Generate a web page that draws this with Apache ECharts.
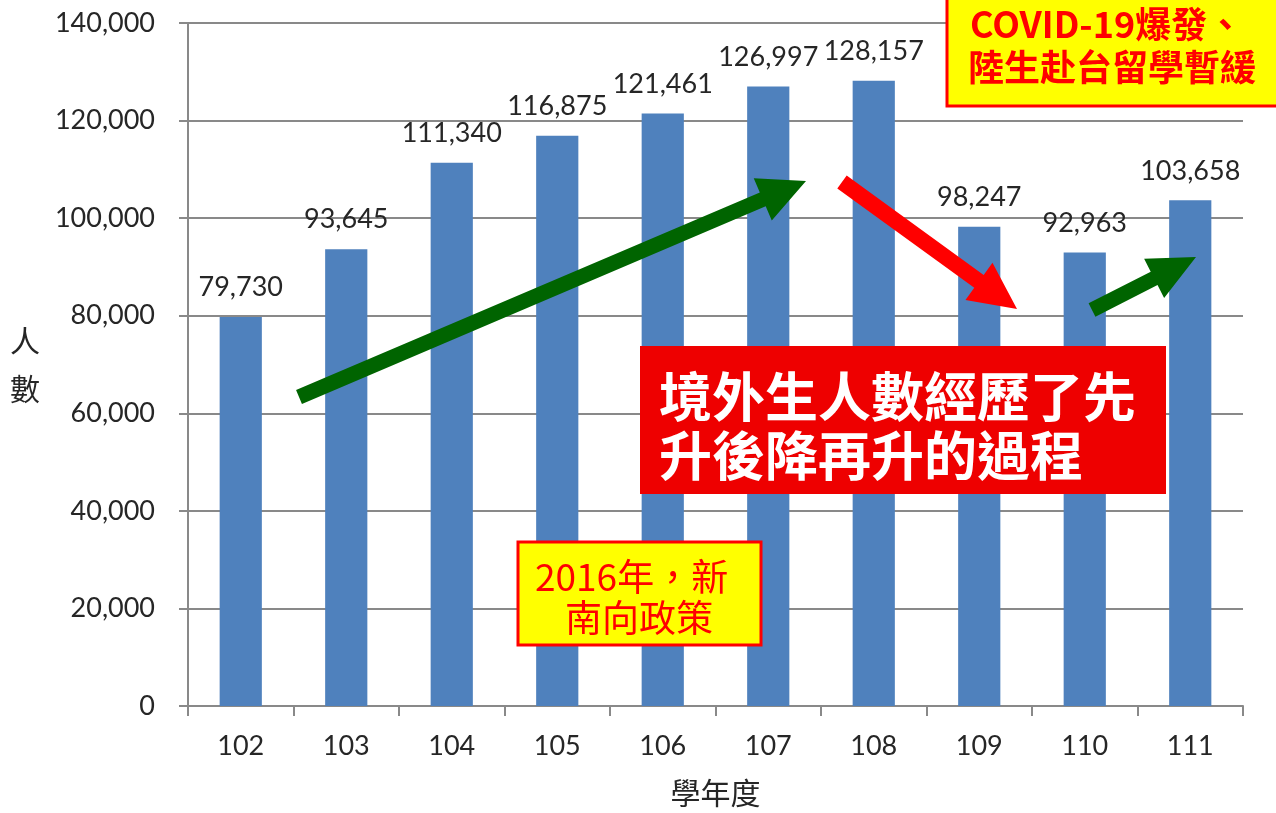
<!DOCTYPE html>
<html>
<head>
<meta charset="utf-8">
<title>境外生人數</title>
<script src="https://cdn.jsdelivr.net/npm/echarts@6/dist/echarts.min.js"></script>
<style>
  html, body { margin: 0; padding: 0; background: #fff; }
  #chart { width: 1276px; height: 813px; }
</style>
</head>
<body>
<div id="chart"></div>
<script>
// 學年度與人數
var years = ['102', '103', '104', '105', '106', '107', '108', '109', '110', '111'];
var students = [79730, 93645, 111340, 116875, 121461, 126997, 128157, 98247, 92963, 103658];
var yTicks = [0, 20000, 40000, 60000, 80000, 100000, 120000, 140000];

var myChart = echarts.init(document.getElementById('chart'));

var FONT = 'Lato, "Noto Sans CJK TC", sans-serif';
var CJK = '"Noto Sans CJK TC", sans-serif';
var GRAY = '#898989';

function fmt(v) {
    return String(v).replace(/\B(?=(\d{3})+(?!\d))/g, ',');
}

// 箭頭多邊形: tail, tip, 箭身寬, 箭頭長, 箭頭半寬
function arrow(t, h, sw, hl, hw, color) {
    var dx = h[0] - t[0], dy = h[1] - t[1];
    var len = Math.sqrt(dx * dx + dy * dy);
    var ux = dx / len, uy = dy / len;
    var nx = -uy, ny = ux;
    var b = [h[0] - ux * hl, h[1] - uy * hl];
    var pts = [
        [t[0] + nx * sw / 2, t[1] + ny * sw / 2],
        [b[0] + nx * sw / 2, b[1] + ny * sw / 2],
        [b[0] + nx * hw, b[1] + ny * hw],
        h,
        [b[0] - nx * hw, b[1] - ny * hw],
        [b[0] - nx * sw / 2, b[1] - ny * sw / 2],
        [t[0] - nx * sw / 2, t[1] - ny * sw / 2]
    ];
    return { type: 'polygon', z: 100, shape: { points: pts }, style: { fill: color } };
}

function box(x, y, w, h, fill, stroke) {
    return {
        type: 'rect', z: 100,
        shape: { x: x, y: y, width: w, height: h },
        style: { fill: fill, stroke: stroke, lineWidth: stroke ? 3 : 0 }
    };
}

function txt(x, y, s, size, color, weight) {
    return {
        type: 'text', z: 101, x: x, y: y,
        style: {
            text: s, fill: color, font: (weight || 'normal') + ' ' + size + 'px ' + CJK,
            textAlign: 'left', textVerticalAlign: 'middle'
        }
    };
}

var option = {
    backgroundColor: '#fff',
    animation: false,
    grid: { left: 188, right: 33, top: 23, bottom: 104, containLabel: false },
    xAxis: {
        type: 'category',
        data: years,
        name: '學年度',
        nameLocation: 'middle',
        nameGap: 72,
        nameTextStyle: { fontSize: 30, color: '#262626', fontFamily: CJK },
        axisLine: { lineStyle: { color: GRAY, width: 2 } },
        axisTick: { show: true, length: 10, lineStyle: { color: GRAY, width: 2 } },
        axisLabel: { fontSize: 27, color: '#262626', fontFamily: FONT, margin: 27 }
    },
    yAxis: {
        type: 'value',
        min: 0,
        max: yTicks[yTicks.length - 1],
        interval: yTicks[1] - yTicks[0],
        name: '人\n數',
        nameLocation: 'middle',
        nameRotate: 0,
        nameGap: 148,
        nameTextStyle: { fontSize: 30, color: '#262626', fontFamily: CJK, lineHeight: 48 },
        axisLine: { show: true, lineStyle: { color: GRAY, width: 2 } },
        axisTick: { show: true, length: 9, lineStyle: { color: GRAY, width: 2 } },
        splitLine: { lineStyle: { color: GRAY, width: 2 } },
        axisLabel: { fontSize: 27, color: '#262626', fontFamily: FONT, margin: 33, formatter: fmt }
    },
    series: [{
        type: 'bar',
        data: students,
        barWidth: '40%',
        itemStyle: { color: '#4F81BD' },
        label: {
            show: true,
            position: 'top',
            distance: 16,
            fontSize: 27,
            color: '#262626',
            fontFamily: FONT,
            formatter: function (p) { return fmt(p.value); }
        }
    }],
    graphic: [
        arrow([299, 397], [806, 181], 15, 47, 23, '#006400'),
        arrow([842, 182], [1017, 309], 16, 47, 23, '#FF0000'),
        arrow([1092, 310], [1196, 257], 15, 47, 22, '#006400'),

        box(947, -5, 340, 111, '#FFFF00', '#FF0000'),
        txt(970, 24, 'COVID-19爆發、', 36, '#FF0000', 'bold'),
        txt(968, 67, '陸生赴台留學暫緩', 36, '#FF0000', 'bold'),

        box(518, 542, 243, 103, '#FFFF00', '#FF0000'),
        txt(535, 577, '2016年，新', 37, '#FF0000', 'normal'),
        txt(565, 618, '南向政策', 37, '#FF0000', 'normal'),

        box(640, 346, 526, 148, '#EE0000', null),
        txt(659, 397, '境外生人數經歷了先', 53, '#FFFFFF', 'bold'),
        txt(659, 456, '升後降再升的過程', 53, '#FFFFFF', 'bold')
    ]
};

myChart.setOption(option);

window.addEventListener('resize', function () {
    myChart.resize();
});
</script>
</body>
</html>
